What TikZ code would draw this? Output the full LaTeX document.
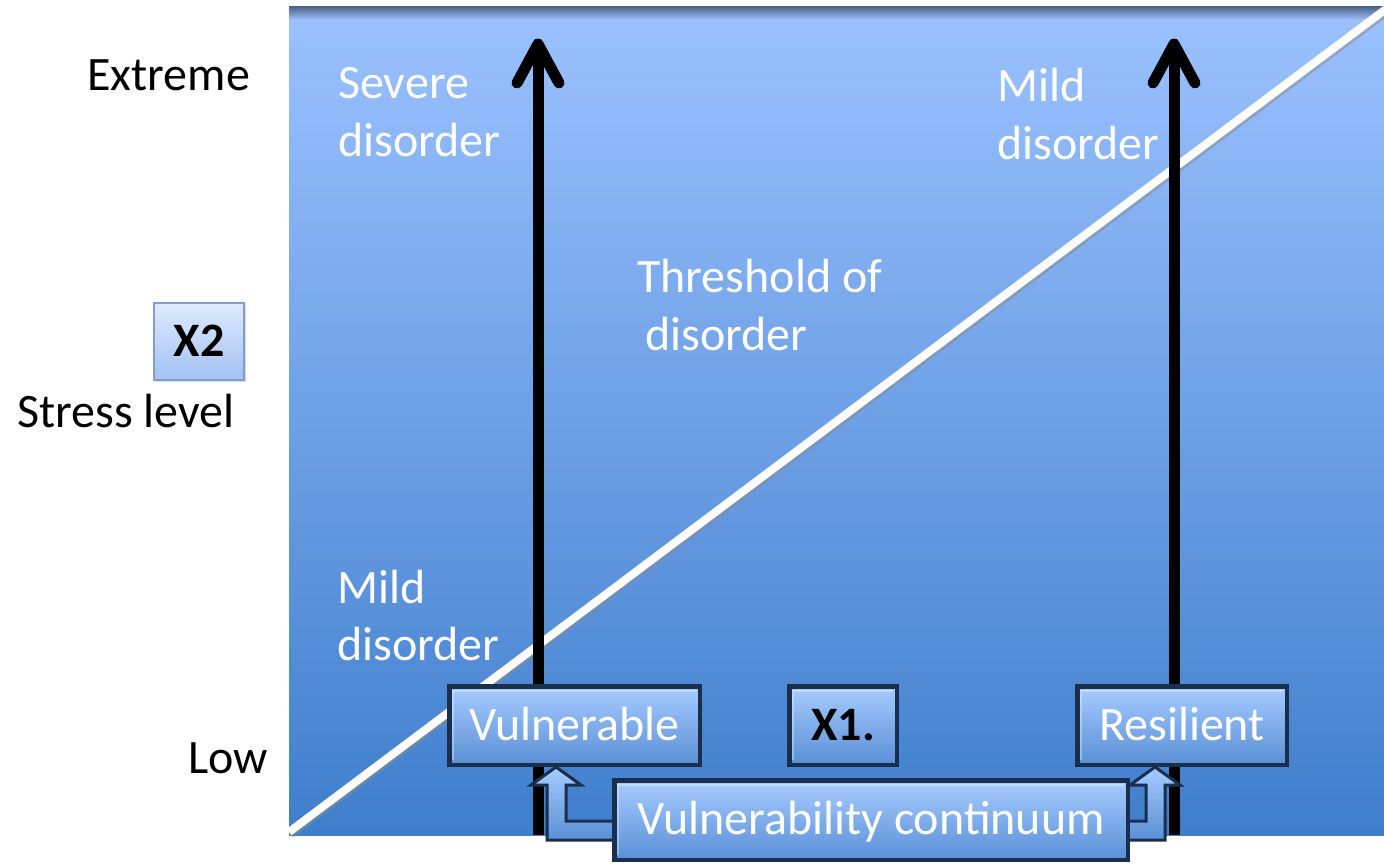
\documentclass[tikz,border=0pt]{standalone}
\usepackage{fontspec}
\setmainfont{Carlito}
\usetikzlibrary{shadows,calc}
\definecolor{bgtop}{HTML}{9CC2FF}
\definecolor{bgmid}{HTML}{6E9FE4}
\definecolor{bgbot}{HTML}{3F7ECC}
\definecolor{topshade}{HTML}{4B5F82}
\definecolor{boxtop}{HTML}{A6CCFF}
\definecolor{boxbot}{HTML}{5A8FD6}
\definecolor{boxedge}{HTML}{1A2F4E}
\definecolor{xtop}{HTML}{DFEAFF}
\definecolor{xbot}{HTML}{A3C1F3}
\definecolor{xedge}{HTML}{7E9ED2}
\begin{document}
\begin{tikzpicture}[x=1pt,y=-1pt,
  lbl/.style={font=\fontsize{48}{58}\selectfont, inner sep=0pt, anchor=base west},
  wlbl/.style={lbl, text=white},
  blbl/.style={lbl, text=black},
  bbox/.style={draw=boxedge, line width=4.5pt, top color=boxtop, bottom color=boxbot,
    text=white, font=\fontsize{48}{58}\selectfont, inner sep=0pt,
    text height=40pt, text depth=11pt, minimum height=78.5pt,
    drop shadow={opacity=0.35, shadow xshift=2pt, shadow yshift=-2pt},
    path picture={\draw[white, opacity=0.35, line width=2pt]
      ($(path picture bounding box.south west)+(4,-5)$) -- ($(path picture bounding box.north west)+(4,5)$)
      -- ($(path picture bounding box.north east)+(-4,5)$);}},
  xbox/.style={draw=xedge, line width=1.5pt, top color=xtop, bottom color=xbot,
    text=black, font=\fontsize{48}{58}\selectfont\bfseries, inner sep=0pt,
    text height=40pt, text depth=11pt, minimum width=90pt, minimum height=77pt,
    drop shadow={opacity=0.3, shadow xshift=2pt, shadow yshift=-2pt}},
  barrow/.style={draw=boxedge, line width=3pt, top color=boxtop, bottom color=boxbot, line join=miter},
  blk/.style={line width=11pt, black},
]
\useasboundingbox (0,0) rectangle (1384,865);
% background panel
\shade[top color=bgtop, middle color=bgmid, bottom color=bgbot] (289,6) rectangle (1384,835);
\shade[top color=topshade, bottom color=bgtop] (289,6) rectangle (1384,20);
% threshold line
\begin{scope}
\clip (289,6) rectangle (1384,840);
\coordinate (d0) at (289,832);
\coordinate (d1) at (1386,9);
\draw[line width=8pt, black!45, opacity=0.5] ($(d0)+(1.5,2.5)$) -- ($(d1)+(1.5,2.5)$);
\draw[line width=8pt, white] (d0) -- (d1);
\end{scope}
% black arrows
\coordinate (va0) at (538,835);
\coordinate (va1) at (538,46);
\coordinate (ra0) at (1174,835);
\coordinate (ra1) at (1174,46);
\draw[blk] (va0) -- (va1);
\draw[blk, line cap=round, line join=round] ($(va1)+(-21,37)$) -- ($(va1)+(0,-2)$) -- ($(va1)+(21,37)$);
\draw[blk] (ra0) -- (ra1);
\draw[blk, line cap=round, line join=round] ($(ra1)+(-21,37)$) -- ($(ra1)+(0,-2)$) -- ($(ra1)+(21,37)$);
% labels
\node[blbl] (ext) at (87,90) {Extreme};
\node[blbl] (stress) at (17,427) {Stress level};
\node[blbl] (low) at (188,773) {Low};
\node[wlbl] (sev1) at (338,98) {Severe};
\node[wlbl] (sev2) at (338,156) {disorder};
\node[wlbl] (mildt1) at (997,101) {Mild};
\node[wlbl] (mildt2) at (997,159) {disorder};
\node[wlbl] (thr1) at (637,292) {Threshold of};
\node[wlbl] (thr2) at (645,350) {disorder};
\node[wlbl] (mildb1) at (337,603) {Mild};
\node[wlbl] (mildb2) at (337,660) {disorder};
% X2 box
\node[xbox] (x2) at (199,341.5) {X2};
% boxes
\node[bbox, minimum width=250.5pt] (vul) at (574.5,725.5) {Vulnerable};
\node[bbox, minimum width=107.5pt, text=black, font=\fontsize{48}{58}\selectfont\bfseries] (x1) at (843,725.5) {X1.};
\node[bbox, minimum width=209.5pt] (res) at (1182,725.5) {Resilient};
% bent block arrows
\path (vul.south) ++(-18.5,0) coordinate (lt);
\path (res.south) ++(-27,0) coordinate (rt);
\filldraw[barrow] (lt) -- ++(25,18) -- ++(-15,0) -- ++(0,36) -- ++(55,0) -- ++(0,19) -- ++(-74,0) -- ++(0,-55) -- ++(-16,0) -- cycle;
\filldraw[barrow] (rt) -- ++(25,18) -- ++(-15,0) -- ++(0,55) -- ++(-45,0) -- ++(0,-19) -- ++(26,0) -- ++(0,-36) -- ++(-16,0) -- cycle;
\node[bbox, minimum width=513.5pt, minimum height=79.5pt] (cont) at (871,820) {Vulnerability continuum};
\end{tikzpicture}
\end{document}
